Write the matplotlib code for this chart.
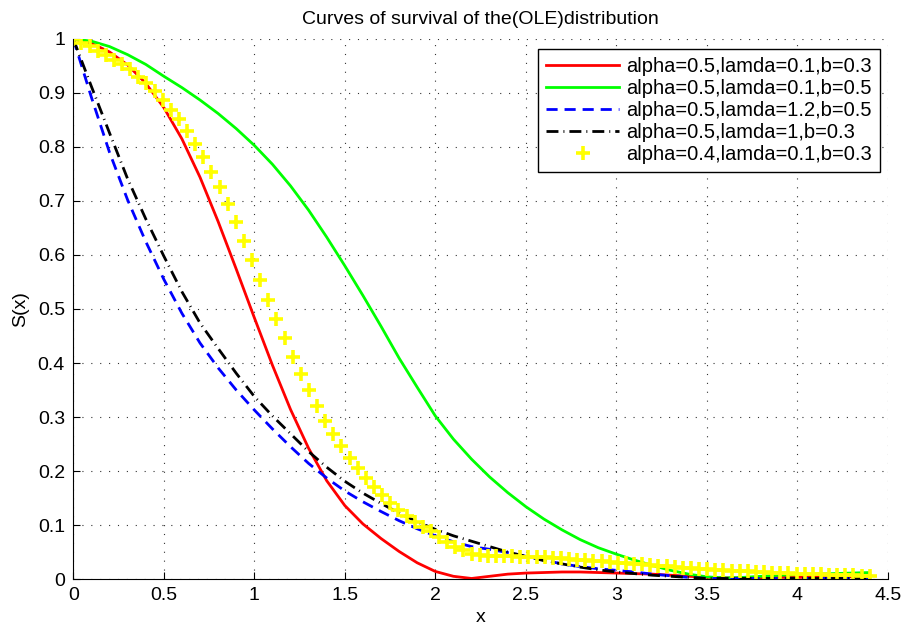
"""Survival curves of the (OLE) distribution, MATLAB-style figure."""

import matplotlib

matplotlib.use("Agg")

import matplotlib.pyplot as plt
import numpy as np
from matplotlib.ticker import FuncFormatter, MultipleLocator

plt.rcParams["font.family"] = ["Liberation Sans", "DejaVu Sans"]

# x positions of the line curves (every 0.1)
x_line = [round(0.1 * i, 1) for i in range(45)]

s_red = [
    1.000, 0.992, 0.976, 0.952, 0.918, 0.873, 0.815, 0.744, 0.662, 0.574,
    0.484, 0.396, 0.314, 0.242, 0.182, 0.136, 0.102, 0.075, 0.051, 0.030,
    0.014, 0.005, 0.001, 0.005, 0.009, 0.011, 0.012, 0.013, 0.013, 0.012,
    0.011, 0.010, 0.009, 0.007, 0.005, 0.003, 0.002, 0.002, 0.002, 0.003,
    0.003, 0.003, 0.004, 0.004, 0.004,
]
s_green = [
    1.000, 0.996, 0.986, 0.971, 0.953, 0.931, 0.910, 0.887, 0.862, 0.834,
    0.803, 0.768, 0.728, 0.683, 0.633, 0.580, 0.525, 0.468, 0.409, 0.355,
    0.302, 0.259, 0.222, 0.189, 0.160, 0.134, 0.111, 0.091, 0.073, 0.058,
    0.046, 0.035, 0.025, 0.016, 0.009, 0.004, 0.002, 0.003, 0.005, 0.007,
    0.008, 0.009, 0.010, 0.011, 0.012,
]
s_blue = [
    1.000, 0.892, 0.790, 0.702, 0.625, 0.555, 0.492, 0.437, 0.391, 0.350,
    0.313, 0.278, 0.245, 0.214, 0.187, 0.163, 0.143, 0.125, 0.108, 0.093,
    0.080, 0.069, 0.060, 0.055, 0.049, 0.042, 0.035, 0.028, 0.023, 0.019,
    0.016, 0.013, 0.009, 0.006, 0.003, 0.001, 0.001, 0.001, 0.001, 0.001,
    0.001, 0.001, 0.001, 0.001, 0.001,
]
s_black = [
    1.000, 0.912, 0.826, 0.741, 0.667, 0.598, 0.532, 0.474, 0.427, 0.381,
    0.338, 0.302, 0.269, 0.236, 0.207, 0.181, 0.159, 0.140, 0.122, 0.106,
    0.092, 0.080, 0.070, 0.060, 0.050, 0.042, 0.034, 0.028, 0.022, 0.017,
    0.013, 0.010, 0.007, 0.005, 0.003, 0.001, 0.001, 0.001, 0.001, 0.001,
    0.001, 0.001, 0.001, 0.001, 0.001,
]

# yellow '+' series, 99 points from 0 to 4.4
x_plus = np.linspace(0, 4.4, 99)
s_yellow = [
    1.000, 0.993, 0.987, 0.978, 0.971, 0.962, 0.953, 0.944, 0.930, 0.918,
    0.903, 0.887, 0.869, 0.851, 0.829, 0.806, 0.781, 0.754, 0.726, 0.695,
    0.661, 0.626, 0.590, 0.553, 0.517, 0.481, 0.446, 0.412, 0.380, 0.350,
    0.321, 0.293, 0.268, 0.246, 0.225, 0.205, 0.187, 0.171, 0.155, 0.140,
    0.127, 0.116, 0.106, 0.097, 0.088, 0.078, 0.069, 0.060, 0.053, 0.047,
    0.044, 0.043, 0.043, 0.042, 0.042, 0.041, 0.041, 0.040, 0.040, 0.039,
    0.038, 0.037, 0.036, 0.035, 0.034, 0.033, 0.031, 0.030, 0.029, 0.028,
    0.027, 0.026, 0.025, 0.024, 0.023, 0.021, 0.020, 0.019, 0.018, 0.017,
    0.016, 0.015, 0.014, 0.014, 0.013, 0.013, 0.012, 0.011, 0.011, 0.010,
    0.010, 0.009, 0.009, 0.008, 0.008, 0.007, 0.007, 0.006, 0.006,
]

labels = [
    "alpha=0.5,lamda=0.1,b=0.3",
    "alpha=0.5,lamda=0.1,b=0.5",
    "alpha=0.5,lamda=1.2,b=0.5",
    "alpha=0.5,lamda=1,b=0.3",
    "alpha=0.4,lamda=0.1,b=0.3",
]

fig = plt.figure(figsize=(9.04, 6.33), dpi=100)
ax = fig.add_axes([0.0811, 0.0853, 0.901, 0.8531])

ax.plot(x_line, s_red, color="#ff0000", lw=2, label=labels[0])
ax.plot(x_line, s_green, color="#00ff00", lw=2, label=labels[1])
ax.plot(x_line, s_blue, color="#0000ff", lw=2, dashes=(4, 2.5), label=labels[2])
ax.plot(x_line, s_black, color="black", lw=2, dashes=(4.3, 1.8, 0.35, 1.8),
        label=labels[3])
ax.plot(x_plus, s_yellow, ls="none", marker="+", ms=10, mew=2.6,
        color="#ffff00", label=labels[4])

ax.set_xlim(0, 4.5)
ax.set_ylim(0, 1)
ax.xaxis.set_major_locator(MultipleLocator(0.5))
ax.yaxis.set_major_locator(MultipleLocator(0.1))
fmt = FuncFormatter(lambda v, _: f"{v:g}")
ax.xaxis.set_major_formatter(fmt)
ax.yaxis.set_major_formatter(fmt)

ax.grid(True, color="0.2", lw=0.8, linestyle=(0, (1, 7)))
for side in ("top", "right"):
    ax.spines[side].set_visible(False)
for side in ("left", "bottom"):
    ax.spines[side].set_linewidth(0.8)
ax.tick_params(direction="in", length=5, width=0.8, labelsize=14, pad=6)

ax.set_title("Curves of survival of the(OLE)distribution", fontsize=14, pad=11)
ax.set_xlabel("x", fontsize=14, labelpad=3)
ax.set_ylabel("S(x)", fontsize=14, labelpad=6)

leg = ax.legend(loc="upper right", bbox_to_anchor=(0.990, 0.981),
                borderaxespad=0, fontsize=14.5, fancybox=False, framealpha=1,
                edgecolor="black", handlelength=3.6, labelspacing=0.15,
                borderpad=0.4, handletextpad=0.35)
leg.get_frame().set_linewidth(1)

fig.savefig("out.png", dpi=100)
